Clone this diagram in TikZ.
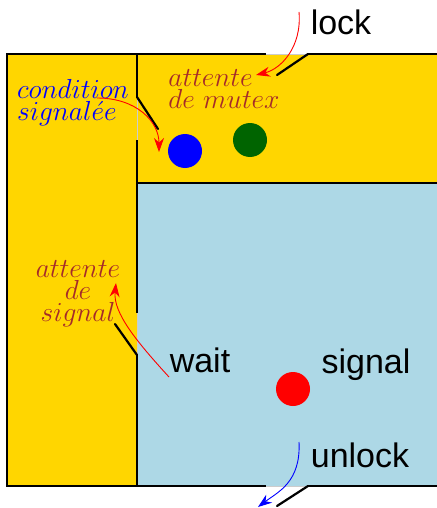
\documentclass[tikz,border=0pt]{standalone}
\usepackage{fix-cm}
\usepackage{fontspec}
\newfontfamily\callfont{Liberation Sans}
\usetikzlibrary{arrows.meta,positioning}
\definecolor{roomyellow}{HTML}{FFD600}
\definecolor{roomblue}{HTML}{ADD8E6}
\definecolor{queuebrown}{HTML}{A52A2A}
\definecolor{ownergreen}{HTML}{006400}

\begin{document}
\begin{tikzpicture}[x=1pt, y=-1pt,
  wall/.style={line width=2pt},
  gap/.style={line width=0.8pt, gray!40},
  leaf/.style={line width=2.2pt, line cap=round},
  call/.style={font=\callfont\fontsize{34}{38}\selectfont, inner sep=0pt},
  queue/.style={font=\fontsize{27.5}{22}\selectfont, text=queuebrown, align=center, inner sep=0pt},
  thread/.style={circle, minimum size=34pt, inner sep=0pt},
  move/.style={red, line width=0.9pt, -{Stealth[length=14pt,width=10pt]}},
]
\useasboundingbox (0,0) rectangle (436,508);

% rooms
\fill[roomyellow] (7,54) rectangle (137,486);
\fill[roomyellow] (137,54) rectangle (440,183);
\fill[roomblue] (137,183) rectangle (440,486);

% walls, with the door openings left out
\draw[wall] (266,54) -- (7,54) -- (7,486) -- (266,486);
\draw[wall] (308,54) -- (440,54);
\draw[wall] (308,486) -- (440,486);
\draw[wall] (137,54) -- (137,97) (137,140) -- (137,313) (137,355) -- (137,486);
\draw[wall] (137,183) -- (440,183);
\draw[gap] (266,54) -- (308,54) (266,486) -- (308,486)
  (137,97) -- (137,140) (137,313) -- (137,355);

% doors
\draw[leaf] (308,54) -- (277,75);
\draw[leaf] (137,97) -- (158,129);
\draw[leaf] (137,355) -- (115,324);
\draw[leaf] (308,486) -- (277,506);

% threads
\node[thread, fill=blue] (signaled) at (185,151) {};
\node[thread, fill=ownergreen] (waiting) at (250,140) {};
\node[thread, fill=red] (signaler) at (293,389) {};

% labels
\node[call] (lock) at (341,22) {lock};
\node[call] (wait) at (200,360) {wait};
\node[call] (signal) at (366,365) {signal};
\node[call] (unlock) at (360,455) {unlock};
\node[queue, align=left] (mutexq) at (224,89) {$attente$\\$de\ mutex$};
\node[queue] (sigq) at (78,294) {$attente$\\$de$\\$signal$};
\node[queue, text=blue, align=left] (condsig) at (73,103) {$condition$\\$signal\acute{e}e$};
\coordinate (outside) at (258,507);

% moves
\draw[move] ([shift={(-42,-10)}]lock.center) .. controls +(3,35) and +(25,-6) .. ([shift={(32,-14)}]mutexq.center);
\draw[move] ([shift={(24,-5)}]condsig.center) .. controls +(40,0) and +(0,-30) .. ([shift={(-26,1)}]signaled.center);
\draw[move] ([shift={(-31,17)}]wait.center) .. controls +(-32,-35) and +(-3,30) .. ([shift={(38,-11)}]sigq.center);
\draw[move, blue] ([shift={(-61,-13)}]unlock.center) .. controls +(2,40) and +(20,-15) .. (outside);

\end{tikzpicture}
\end{document}
